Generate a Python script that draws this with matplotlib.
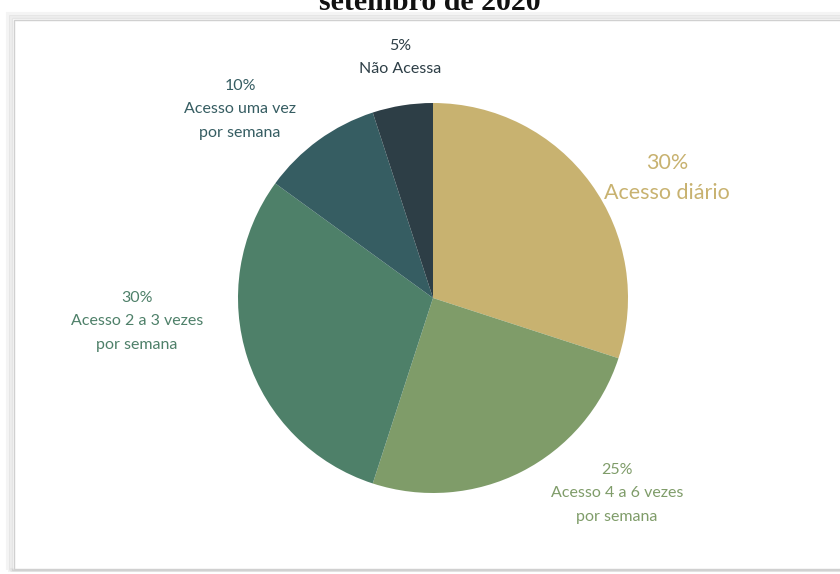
import matplotlib.pyplot as plt
from matplotlib.patches import Rectangle

# data (clockwise from the top)
categories = ["Acesso diário", "Acesso 4 a 6 vezes\npor semana", "Acesso 2 a 3 vezes\npor semana",
              "Acesso uma vez\npor semana", "Não Acessa"]
values = [30, 25, 30, 10, 5]
colors = ["#c8b270", "#7f9c69", "#4e8069", "#365d62", "#2d3e46"]
label_colors = ["#c8b270", "#7f9c69", "#4e8069", "#365d62", "#2d3e46"]

fig = plt.figure(figsize=(8.4, 5.74), dpi=100)
fig.patch.set_facecolor("white")

# framed panel with soft grey shadow (behind the pie)
for i, a in enumerate([0.10, 0.16, 0.25]):
    fig.patches.append(Rectangle((8 / 840 + i * 2 / 840, 4 / 574), 1.1, (556 - i * 2) / 574,
                                 transform=fig.transFigure, facecolor="none", zorder=-2,
                                 edgecolor="#9a9a9a", alpha=a, linewidth=3 - i))
fig.patches.append(Rectangle((14 / 840, 5 / 574), 1.1, 549 / 574, transform=fig.transFigure,
                             facecolor="white", edgecolor="#d0d0d0", linewidth=1, zorder=-1))

# title, cut off at the top edge like in the source
fig.text(430 / 840, 1 - 10 / 574, "setembro de 2020", ha="center", va="baseline", fontsize=21.5,
         fontweight="bold", family="Liberation Serif", color="#111111")

ax = fig.add_axes([(433 - 195) / 840, (574 - 298 - 195) / 574, 390 / 840, 390 / 574])
ax.set_zorder(5)
ax.pie(values, colors=colors, startangle=90, counterclock=False,
       wedgeprops=dict(linewidth=0))
ax.set_xlim(-1, 1)
ax.set_ylim(-1, 1)
ax.axis("off")

# label positions in pixels (center x, top y)
pos = [(667, 153), (617, 463), (137, 291), (240, 79), (400, 39)]
for i in range(len(values)):
    x, y = pos[i]
    size = 15.5 if i == 0 else 11.5
    spacing = 1.6 if i == 0 else 1.85
    fig.text(x / 840, 1 - y / 574, str(values[i]) + "%\n" + categories[i], ha="center", va="top",
             fontsize=size, color=label_colors[i], family="Lato",
             linespacing=spacing, zorder=6)

plt.savefig("out.png", dpi=100)
